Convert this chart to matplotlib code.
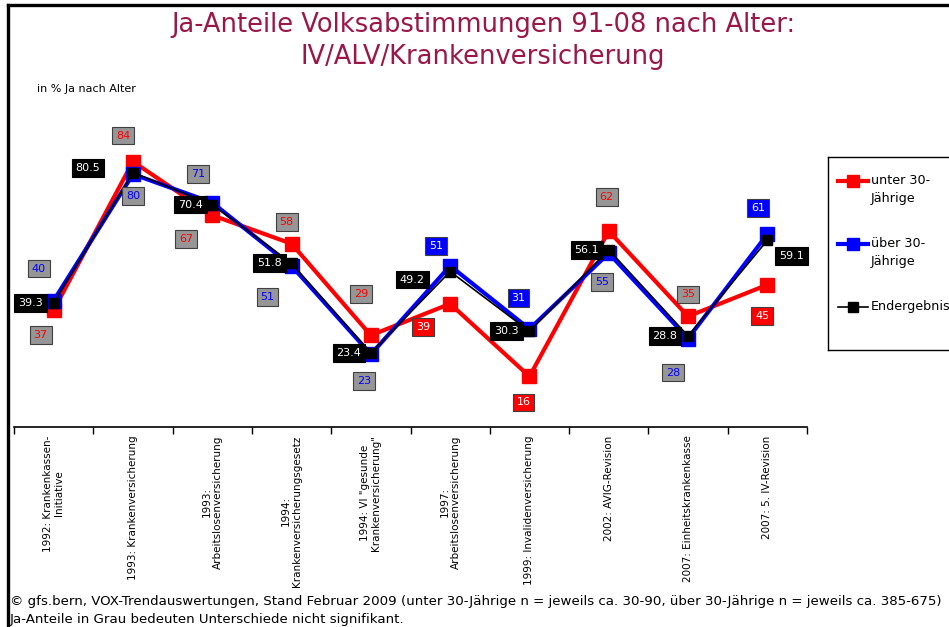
import matplotlib
matplotlib.use("Agg")
import matplotlib.pyplot as plt
from matplotlib.lines import Line2D

# data
categories = [
    "1992: Krankenkassen-\nInitiative",
    "1993: Krankenversicherung",
    "1993:\nArbeitslosenversicherung",
    "1994:\nKrankenversicherungsgesetz",
    "1994: VI \"gesunde\nKrankenversicherung\"",
    "1997:\nArbeitslosenversicherung",
    "1999: Invalidenversicherung",
    "2002: AVIG-Revision",
    "2007: Einheitskrankenkasse",
    "2007: 5. IV-Revision",
]
unter30 = [37, 84, 67, 58, 29, 39, 16, 62, 35, 45]
ueber30 = [40, 80, 71, 51, 23, 51, 31, 55, 28, 61]
ergebnis = [39.3, 80.5, 70.4, 51.8, 23.4, 49.2, 30.3, 56.1, 28.8, 59.1]
signifikant = [False, False, False, False, False, True, True, False, False, True]

# label offsets in pixels (dx, dy up)
off_unter = [(-13, -25), (-10, 26), (-26, -24), (-5, 22), (-10, 41),
             (-27, -23), (-6, -26), (-2, 34), (0, 22), (-5, -31)]
off_ueber = [(-15, 32), (0, -22), (-14, 29), (-24, -31), (-7, -27),
             (-14, 20), (-11, 31), (-7, -29), (-15, -34), (-9, 26)]
off_erg = [(-23, 0), (-45, 5), (-22, 0), (-22, 0), (-22, 0),
           (-38, -8), (-23, 0), (-22, 0), (-23, 0), (24, -16)]

W, H = 949, 627
RED = "#ff0000"
BLUE = "#0000ff"
GRAY = "#969696"
TITLE_COL = "#9b1748"

fig = plt.figure(figsize=(W / 100, H / 100), dpi=100)
ax = fig.add_axes([14 / W, 1 - 427 / H, (807 - 14) / W, 316 / H])

x = list(range(len(categories)))
ax.plot(x, unter30, color=RED, lw=3, marker="s", ms=9.5, mec=RED, zorder=3)
ax.plot(x, ueber30, color=BLUE, lw=3, marker="s", ms=9.5, mec=BLUE, zorder=4)
ax.plot(x, ergebnis, color="black", lw=1.2, marker="s", ms=7, mec="black", zorder=5)

px = 0.72  # points per pixel
fs = 8
for i in x:
    if signifikant[i]:
        fc_r, tc_r, fc_b, tc_b = RED, "white", BLUE, "white"
    else:
        fc_r, tc_r, fc_b, tc_b = GRAY, RED, GRAY, BLUE
    for val, off, fc, tc in [(unter30[i], off_unter[i], fc_r, tc_r),
                             (ueber30[i], off_ueber[i], fc_b, tc_b)]:
        ax.annotate(f"{val}", xy=(i, val), xytext=(off[0] * px, off[1] * px),
                    textcoords="offset points", ha="center", va="center",
                    fontsize=fs, color=tc, zorder=6,
                    bbox=dict(boxstyle="square,pad=0.35", fc=fc, ec="#404040", lw=0.8))
    off = off_erg[i]
    ax.annotate(f"{ergebnis[i]}", xy=(i, ergebnis[i]), xytext=(off[0] * px, off[1] * px),
                textcoords="offset points", ha="center", va="center",
                fontsize=fs, color="white", zorder=6,
                bbox=dict(boxstyle="square,pad=0.35", fc="black", ec="black", lw=0.8))

ax.set_xlim(-0.5, len(categories) - 0.5)
ax.set_ylim(0, 100)
for s in ["top", "right", "left"]:
    ax.spines[s].set_visible(False)
ax.spines["bottom"].set_linewidth(1.2)
ax.set_yticks([])
ax.set_xticks(x)
ax.set_xticklabels(categories, rotation=90, fontsize=7.5, va="top", ha="center",
                   multialignment="center", linespacing=1.15)
ax.tick_params(axis="x", which="major", length=0, pad=6)
ax.set_xticks([i - 0.5 for i in range(len(categories) + 1)], minor=True)
ax.tick_params(axis="x", which="minor", length=5, width=1)

# title and notes
fig.text(483 / W, 1 - 41 / H, "Ja-Anteile Volksabstimmungen 91-08 nach Alter:\nIV/ALV/Krankenversicherung",
         ha="center", va="center", fontsize=18.5, color=TITLE_COL, linespacing=1.25)
fig.text(37 / W, 1 - 89 / H, "in % Ja nach Alter", fontsize=8, va="center")
fig.text(10 / W, 1 - 602 / H,
         "© gfs.bern, VOX-Trendauswertungen, Stand Februar 2009 (unter 30-Jährige n = jeweils ca. 30-90, "
         "über 30-Jährige n = jeweils ca. 385-675)", fontsize=9.6, va="center")
fig.text(10 / W, 1 - 620 / H, "Ja-Anteile in Grau bedeuten Unterschiede nicht signifikant.",
         fontsize=9.6, va="center")

# frame
fig.add_artist(Line2D([8 / W, 1], [1 - 5 / H, 1 - 5 / H], color="black", lw=2.4,
                      transform=fig.transFigure))
fig.add_artist(Line2D([8 / W, 8 / W], [0, 1 - 5 / H], color="black", lw=2.4,
                      transform=fig.transFigure))

# legend box
lg = fig.add_axes([828 / W, 1 - 350 / H, 132 / W, 193 / H])
lg.set_xlim(0, 132)
lg.set_ylim(193, 0)
lg.set_xticks([])
lg.set_yticks([])
for s in lg.spines.values():
    s.set_linewidth(1)
legend_items = [("unter 30-\nJährige", RED, 3, 8), ("über 30-\nJährige", BLUE, 3, 8),
                ("Endergebnis", "black", 1.2, 7)]
for k, (lab, col, lw, ms) in enumerate(legend_items):
    yy = 24 + k * 63
    lg.plot([10, 40], [yy, yy], color=col, lw=lw)
    lg.plot([25], [yy], marker="s", ms=ms, color=col)
    lg.text(43, yy - 7, lab, va="top", ha="left", fontsize=9.2, linespacing=1.5)

fig.savefig("out.png", dpi=100)
